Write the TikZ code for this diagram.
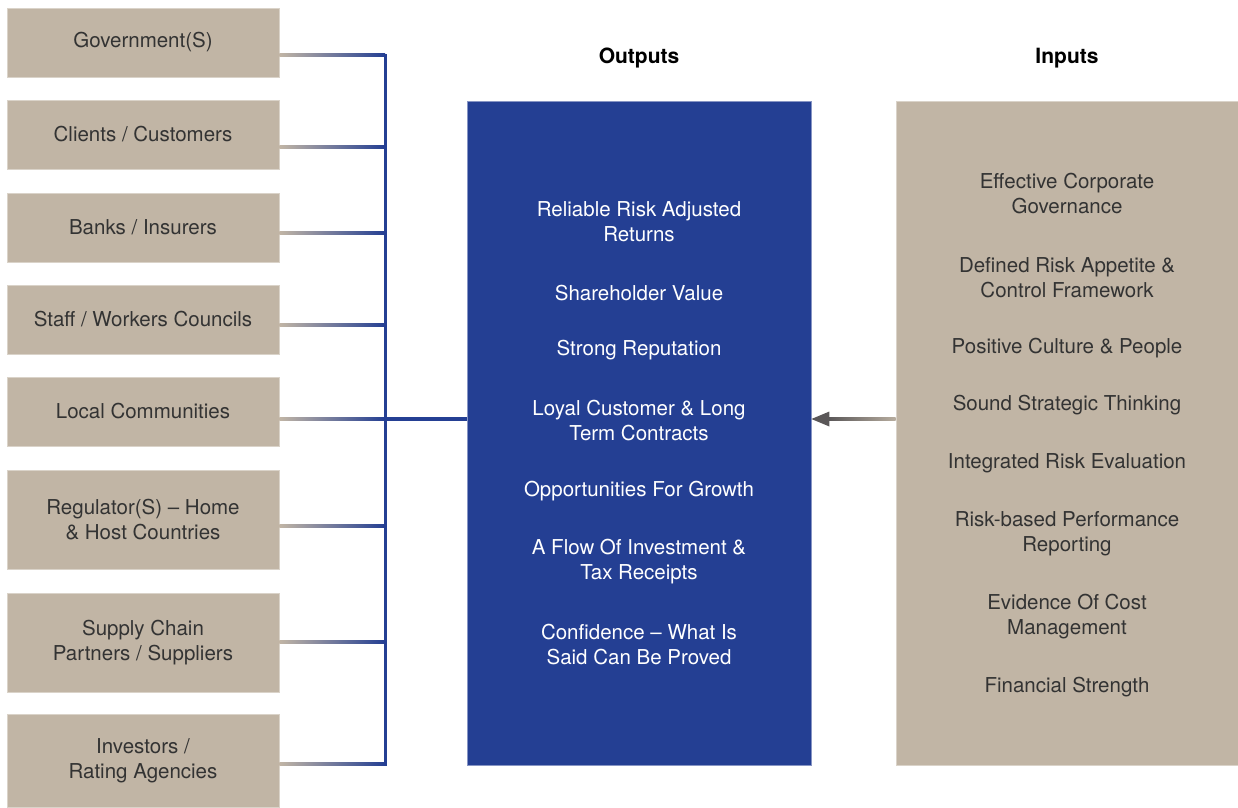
\documentclass[tikz,border=0pt]{standalone}
\usepackage{fontspec}
\setmainfont{TeX Gyre Heros}
\usetikzlibrary{calc}
\definecolor{sand}{HTML}{C1B5A5}
\definecolor{navy}{HTML}{243F93}
\definecolor{ink}{HTML}{333333}
\definecolor{steel}{HTML}{5A5758}
\begin{document}
\begin{tikzpicture}[x=1pt,y=-1pt,
  party/.style={fill=sand, draw=sand!60!white, line width=0.8pt,
    minimum width=272pt, text=ink, font=\fontsize{20.5}{25}\selectfont,
    align=center, inner sep=0pt},
  panel/.style={minimum height=664pt, inner sep=0pt},
  outtxt/.style={text=white, font=\fontsize{20.5}{25}\selectfont, align=center, inner sep=0pt},
  intxt/.style={text=ink, font=\fontsize{20.5}{25}\selectfont, align=center, inner sep=0pt},
  head/.style={text=black, font=\bfseries\fontsize{21}{25}\selectfont, inner sep=0pt},
  bus/.style={draw=navy, line width=3pt}
]
\useasboundingbox (0,0) rectangle (1238,807);

% stakeholder boxes
\node[party, minimum height=69pt] (g1) at (143,42.5) {Government(S)};
\node[party, minimum height=69pt] (g2) at (143,134.5) {Clients / Customers};
\node[party, minimum height=69pt] (g3) at (143,227.5) {Banks / Insurers};
\node[party, minimum height=69pt] (g4) at (143,319.5) {Staff / Workers Councils};
\node[party, minimum height=69pt] (g5) at (143,411.5) {Local Communities};
\node[party, minimum height=99pt] (g6) at (143,519.5) {Regulator(S) – Home\\\& Host Countries};
\node[party, minimum height=99pt] (g7) at (143,642.5) {Supply Chain\\Partners / Suppliers};
\node[party, minimum height=93pt] (g8) at (143,760.5) {Investors /\\Rating Agencies};

% outputs and inputs panels
\node[panel, fill=navy, draw=navy!55!white, line width=0.8pt, minimum width=344pt] (out) at (639,433) {};
\node[panel, fill=sand, draw=sand!60!white, line width=0.8pt, minimum width=342pt] (in) at (1067,433) {};

\node[head] (hout) at (639,58) {Outputs};
\node[head] (hin) at (1067,58) {Inputs};

% output items
\node[outtxt] (o1) at (639,221.5) {Reliable Risk Adjusted\\Returns};
\node[outtxt] (o2) at (639,293) {Shareholder Value};
\node[outtxt] (o3) at (639,350) {Strong Reputation};
\node[outtxt] (o4) at (639,420.5) {Loyal Customer \& Long\\Term Contracts};
\node[outtxt] (o5) at (639,491) {Opportunities For Growth};
\node[outtxt] (o6) at (639,561.5) {A Flow Of Investment \&\\Tax Receipts};
\node[outtxt] (o7) at (639,644.5) {Confidence – What Is\\Said Can Be Proved};

% input items
\node[intxt] (i1) at (1067,193.5) {Effective Corporate\\Governance};
\node[intxt] (i2) at (1067,277.5) {Defined Risk Appetite \&\\Control Framework};
\node[intxt] (i3) at (1067,348) {Positive Culture \& People};
\node[intxt] (i4) at (1067,405) {Sound Strategic Thinking};
\node[intxt] (i5) at (1067,463) {Integrated Risk Evaluation};
\node[intxt] (i6) at (1067,533.5) {Risk-based Performance\\Reporting};
\node[intxt] (i7) at (1067,616.5) {Evidence Of Cost\\Management};
\node[intxt] (i8) at (1067,687) {Financial Strength};

% junction points on the collecting bus
\coordinate (b1) at (385,55);
\coordinate (b2) at (385,147);
\coordinate (b3) at (385,233);
\coordinate (b4) at (385,325);
\coordinate (b5) at (385,419);
\coordinate (b6) at (385,526);
\coordinate (b7) at (385,642);
\coordinate (b8) at (385,764);

% feeders fading from sand into navy
\foreach \i in {1,...,8}{
  \shade[left color=sand, right color=navy]
    ($(g\i.east |- b\i)+(0,-1.5)$) rectangle ($(b\i)+(0,1.5)$);
}

% vertical bus and link into the outputs panel
\draw[bus, line cap=rect] (b1) -- (b8);
\draw[draw=navy, line width=3.5pt] (b5) -- (out.west |- b5);

% arrow from inputs to outputs
\coordinate (ay) at (0,419);
\coordinate (tip) at (out.east |- ay);
\coordinate (tail) at (in.west |- ay);
\shade[left color=steel, right color=sand!85!gray]
  ($(tip)+(17,-1.6)$) rectangle ($(tail)+(0,1.6)$);
\fill[steel] (tip) -- ($(tip)+(18,-7.5)$) -- ($(tip)+(18,7.5)$) -- cycle;
\end{tikzpicture}
\end{document}
